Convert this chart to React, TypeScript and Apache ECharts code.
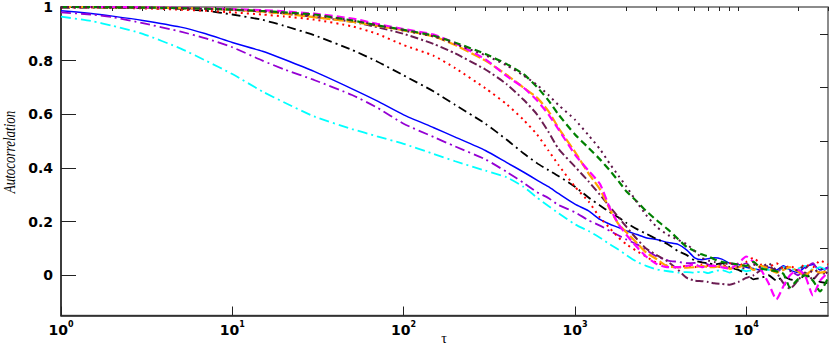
import React, { useEffect, useRef } from "react";
import * as echarts from "echarts";

// lag values (tau) shared by all series
const TAU = [
  1, 1.5, 2, 3, 5, 7, 10, 15, 20, 30, 50, 70, 100, 150, 200, 300, 400, 500, 600, 700, 800,
  1000, 1200, 1400, 1600, 1800, 2000, 2300, 2600, 3000, 3500, 4000, 4500, 5000, 5500, 6000,
  6500, 7200, 8000, 9000, 10000, 11000, 12200, 13500, 15000, 16500, 18000, 20000, 22000,
  24500, 27000, 30000,
];

const BLUE = [
  0.986, 0.976, 0.966, 0.95, 0.925, 0.9, 0.868, 0.835, 0.805, 0.76, 0.695, 0.65, 0.598, 0.55, 0.515,
  0.465, 0.42, 0.385, 0.355, 0.33, 0.305, 0.265, 0.24, 0.208, 0.19, 0.178, 0.165, 0.152, 0.14,
  0.133, 0.122, 0.115, 0.094, 0.065, 0.058, 0.062,
  0.065, 0.06, 0.045, 0.04, 0.03, 0.025, 0.02, 0.03, 0.02, 0.035, 0.02, 0.01, 0.03, 0.04, 0.02, 0.03,
];
const CYAN = [
  0.964, 0.948, 0.93, 0.9, 0.845, 0.8, 0.75, 0.685, 0.645, 0.592, 0.545, 0.518, 0.49, 0.452, 0.425,
  0.39, 0.365, 0.33, 0.29, 0.258, 0.232, 0.19, 0.165, 0.14, 0.115, 0.095, 0.075, 0.05, 0.035,
  0.022, 0.015, 0.01, 0.012, 0.01, 0.014, 0.008,
  0.015, 0.02, 0.01, 0.025, 0.015, 0.02, 0.03, 0.02, 0.015, 0.03, 0.02, 0.025, 0.035, 0.02, 0.03, 0.015,
];
const VIOLET = [
  0.98, 0.972, 0.962, 0.94, 0.908, 0.883, 0.85, 0.8, 0.768, 0.728, 0.672, 0.625, 0.565, 0.515, 0.48,
  0.432, 0.385, 0.345, 0.31, 0.288, 0.262, 0.235, 0.205, 0.185, 0.165, 0.148, 0.133, 0.115, 0.095,
  0.07, 0.055, 0.05, 0.045, 0.046, 0.05, 0.04,
  0.035, 0.04, 0.025, 0.03, 0.045, 0.02, 0.035, 0.025, 0.01, 0.03, 0.02, 0.0, 0.025, 0.045, 0.01, 0.03,
];
const BLACK = [
  0.998, 0.998, 0.997, 0.996, 0.993, 0.986, 0.972, 0.952, 0.93, 0.895, 0.84, 0.797, 0.745, 0.685,
  0.635, 0.565, 0.505, 0.455, 0.418, 0.392, 0.37, 0.33, 0.29, 0.26, 0.235, 0.215, 0.195, 0.172, 0.155,
  0.135, 0.115, 0.09, 0.075, 0.055, 0.048, 0.045,
  0.04, 0.045, 0.03, 0.02, 0.005, -0.015, -0.01, 0.0, -0.02, -0.005, -0.015, -0.02, 0.0, -0.01, -0.025, -0.03,
];
const RED = [
  0.999, 0.998, 0.997, 0.995, 0.99, 0.986, 0.98, 0.972, 0.965, 0.953, 0.928, 0.9, 0.858, 0.818,
  0.772, 0.697, 0.637, 0.58, 0.525, 0.465, 0.412, 0.33, 0.275, 0.215, 0.175, 0.14, 0.115, 0.09,
  0.07, 0.046, 0.035, 0.03, 0.035, 0.03, 0.04, 0.035,
  0.035, 0.03, 0.045, 0.035, 0.05, 0.065, 0.04, 0.03, 0.045, 0.025, 0.035, 0.02, 0.04, 0.03, 0.055, 0.04,
];
const MAROON_DASHDOT = [
  0.999, 0.999, 0.998, 0.997, 0.995, 0.993, 0.99, 0.983, 0.976, 0.963, 0.945, 0.925, 0.9, 0.862,
  0.827, 0.767, 0.712, 0.655, 0.6, 0.535, 0.472, 0.405, 0.35, 0.3, 0.255, 0.215, 0.18, 0.135, 0.1,
  0.075, 0.05, 0.02, -0.01, -0.02, -0.022, -0.025,
  -0.03, -0.032, -0.035, -0.025, -0.01, 0.0, 0.02, 0.035, 0.01, -0.03, -0.05, -0.02, 0.01, -0.015, 0.01, 0.0,
];
const ORANGE = [
  1.0, 1.0, 0.999, 0.998, 0.996, 0.994, 0.99, 0.983, 0.975, 0.962, 0.945, 0.93, 0.913, 0.89,
  0.858, 0.8, 0.747, 0.7, 0.662, 0.612, 0.55, 0.46, 0.38, 0.32, 0.245, 0.19, 0.16, 0.12, 0.085,
  0.06, 0.032, 0.03, 0.028, 0.03, 0.035, 0.03,
  0.03, 0.035, 0.025, 0.03, 0.04, 0.02, 0.035, 0.025, 0.01, 0.02, 0.03, 0.015, 0.0, 0.02, 0.01, 0.015,
];
const MAGENTA = [
  1.0, 1.0, 1.0, 0.999, 0.997, 0.995, 0.992, 0.988, 0.984, 0.975, 0.957, 0.937, 0.918, 0.897, 0.865,
  0.805, 0.742, 0.7, 0.652, 0.6, 0.545, 0.45, 0.39, 0.34, 0.25, 0.19, 0.15, 0.105, 0.07, 0.042,
  0.03, 0.03, 0.035, 0.04, 0.03, 0.035,
  0.035, 0.03, 0.025, 0.045, 0.07, 0.05, 0.02, -0.03, -0.09, -0.04, 0.0, 0.02, 0.0, -0.075, -0.02, 0.01,
];
const GREEN = [
  1.0, 1.0, 0.999, 0.998, 0.996, 0.994, 0.99, 0.985, 0.98, 0.972, 0.95, 0.932, 0.915, 0.893,
  0.867, 0.825, 0.787, 0.75, 0.702, 0.652, 0.6, 0.525, 0.475, 0.432, 0.39, 0.35, 0.312, 0.275, 0.24,
  0.205, 0.17, 0.135, 0.105, 0.09, 0.078, 0.07,
  0.06, 0.05, 0.045, 0.04, 0.035, 0.05, 0.025, 0.02, 0.015, 0.005, -0.045, -0.015, 0.0, -0.02, -0.06, -0.01,
];
const MAROON_DOTTED = [
  1.0, 1.0, 0.999, 0.998, 0.996, 0.993, 0.99, 0.984, 0.978, 0.968, 0.95, 0.932, 0.912, 0.89, 0.862,
  0.82, 0.782, 0.745, 0.71, 0.672, 0.635, 0.58, 0.522, 0.47, 0.415, 0.37, 0.33, 0.272, 0.225, 0.18,
  0.15, 0.132, 0.115, 0.09, 0.065, 0.055,
  0.05, 0.04, 0.045, 0.03, 0.025, 0.04, 0.03, 0.045, 0.02, 0.03, 0.015, 0.02, 0.035, 0.01, 0.025, 0.005,
];

const X_MAJOR = [1, 10, 100, 1000, 10000];
const X_MINOR = [
  2, 3, 4, 5, 6, 7, 8, 9, 20, 30, 40, 50, 60, 70, 80, 90, 200, 300, 400, 500, 600, 700, 800, 900,
  2000, 3000, 4000, 5000, 6000, 7000, 8000, 9000, 20000, 30000,
];
const Y_MAJOR = [0, 0.2, 0.4, 0.6, 0.8, 1];
const Y_MINOR = [-0.1, 0.1, 0.3, 0.5, 0.7, 0.9];

const SERIES_DEFS = [
  { name: "s1", values: BLUE, color: "#0000ff", width: 1.5, type: "solid" },
  { name: "s2", values: VIOLET, color: "#9400d3", width: 1.8, type: [10, 4, 2, 4] },
  { name: "s3", values: CYAN, color: "#00ffff", width: 1.8, type: [10, 4, 2, 4] },
  { name: "s4", values: BLACK, color: "#000000", width: 1.8, type: [9, 4, 2, 4] },
  { name: "s5", values: RED, color: "#ff0000", width: 2, type: [2, 4] },
  { name: "s6", values: MAROON_DASHDOT, color: "#6b1d52", width: 2, type: [8, 3, 2, 3] },
  { name: "s7", values: ORANGE, color: "#ffa500", width: 2.2, type: [10, 3] },
  { name: "s8", values: MAGENTA, color: "#ff00ff", width: 2.2, type: [8, 4] },
  { name: "s9", values: GREEN, color: "#008000", width: 2.2, type: [7, 4] },
  { name: "s10", values: MAROON_DOTTED, color: "#5e1548", width: 2, type: [2, 4] },
];

const LABEL_FONT = "DejaVu Sans";

export default function App() {
  const ref = useRef<HTMLDivElement | null>(null);

  useEffect(() => {
    if (!ref.current) return;
    const chart = echarts.init(ref.current, null, { renderer: "svg" });

    const series = SERIES_DEFS.map((d) => ({
      name: d.name,
      type: "line",
      xAxisIndex: 0,
      yAxisIndex: 0,
      data: TAU.map((t, i) => [t, d.values[i]]),
      showSymbol: false,
      symbol: "none",
      smooth: 0.2,
      lineStyle: { color: d.color, width: d.width, type: d.type, cap: "butt" },
      emphasis: { disabled: true },
    }));

    chart.setOption({
      animation: false,
      backgroundColor: "#ffffff",
      grid: {
        left: 61,
        right: 2,
        top: 5,
        bottom: 30.5,
        show: true,
        borderColor: "#666",
        borderWidth: 1.5,
        backgroundColor: "transparent",
      },
      xAxis: [
        {
          type: "log",
          logBase: 10,
          min: 1,
          max: 30000,
          axisLine: { show: true, onZero: false, lineStyle: { color: "#222", width: 1.5 } },
          axisTick: {
            show: true,
            inside: true,
            length: 9,
            customValues: X_MAJOR,
            lineStyle: { color: "#222", width: 1 },
          },
          axisLabel: {
            customValues: X_MAJOR,
            margin: 5,
            formatter: (v: number) => `{b|10}{s|${Math.round(Math.log10(v))}}`,
            rich: {
              b: { fontFamily: LABEL_FONT, fontWeight: "bold", fontSize: 14, color: "#000", lineHeight: 18 },
              s: { fontFamily: LABEL_FONT, fontWeight: "bold", fontSize: 8, color: "#000", verticalAlign: "top", lineHeight: 10 },
            },
          },
          splitLine: { show: false },
          minorTick: { show: false },
        },
        {
          type: "log",
          logBase: 10,
          min: 1,
          max: 30000,
          axisLine: { show: false, onZero: false },
          axisTick: {
            show: true,
            inside: true,
            length: 4,
            customValues: X_MINOR,
            lineStyle: { color: "#222", width: 1 },
          },
          axisLabel: { show: false },
          splitLine: { show: false },
        },
      ],
      yAxis: [
        {
          type: "value",
          min: -0.15,
          max: 1,
          axisLine: { show: true, onZero: false, lineStyle: { color: "#222", width: 1.5 } },
          axisTick: {
            show: true,
            inside: true,
            length: 15,
            customValues: Y_MAJOR,
            lineStyle: { color: "#222", width: 1 },
          },
          axisLabel: {
            customValues: Y_MAJOR,
            margin: 8,
            fontFamily: LABEL_FONT,
            fontWeight: "bold",
            fontSize: 14,
            color: "#000",
          },
          splitLine: { show: false },
        },
        {
          type: "value",
          min: -0.15,
          max: 1,
          axisLine: { show: false, onZero: false },
          axisTick: {
            show: true,
            inside: true,
            length: 8,
            customValues: Y_MINOR,
            lineStyle: { color: "#222", width: 1 },
          },
          axisLabel: { show: false },
          splitLine: { show: false },
        },
      ],
      graphic: [
        {
          type: "text",
          x: 9,
          y: 152,
          rotation: Math.PI / 2,
          scaleY: 1.3,
          style: {
            text: "Autocorrelation",
            font: "italic 13px 'Liberation Serif'",
            fill: "#000",
            align: "center",
            verticalAlign: "middle",
          },
        },
        {
          type: "text",
          x: 444,
          y: 338,
          style: {
            text: "τ",
            font: "14px 'Liberation Serif'",
            fill: "#000",
            align: "center",
            verticalAlign: "middle",
          },
        },
      ],
      series,
    });

    return () => chart.dispose();
  }, []);

  return (
    <div
      ref={ref}
      style={{ position: "absolute", left: 0, top: 0, width: 830, height: 346, background: "#fff" }}
    />
  );
}
